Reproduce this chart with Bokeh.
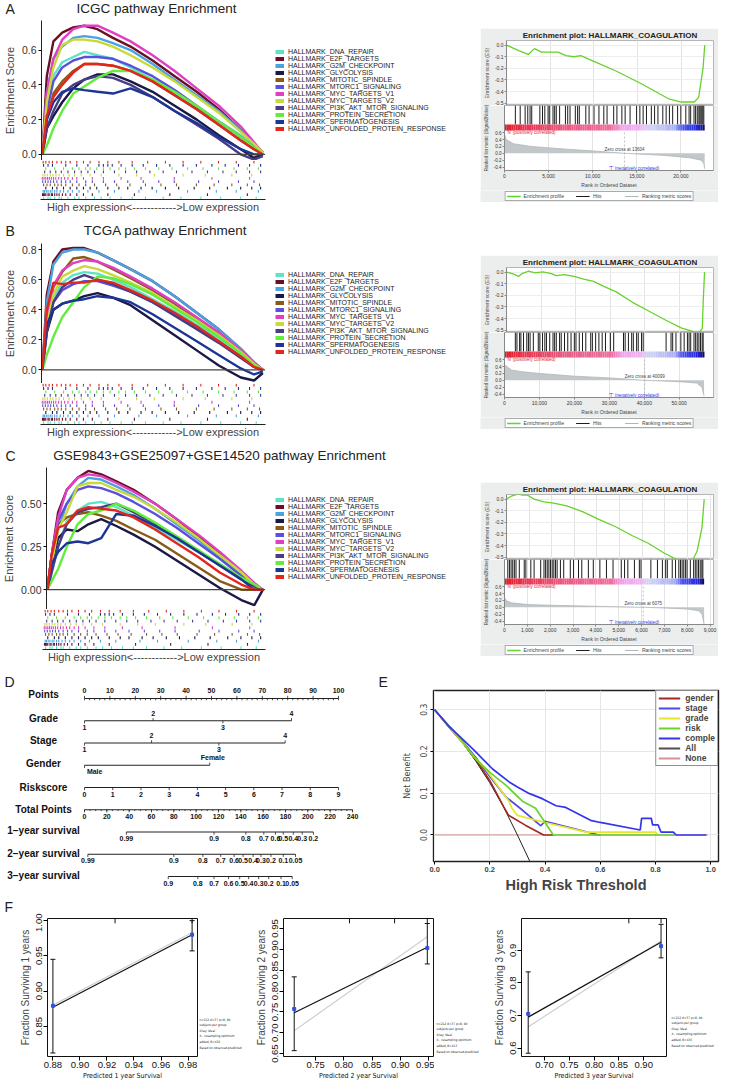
import numpy as np
from bokeh.plotting import figure
from bokeh.layouts import column, row
from bokeh.models import (Range1d, FixedTicker, Legend, LegendItem, Span,
                          NumeralTickFormatter, Spacer)
from bokeh.embed import file_html
from bokeh.resources import INLINE
from bokeh.core.properties import value

SANS = "Liberation Sans"
NARROW = "'DejaVu Sans Condensed', 'Liberation Sans Narrow', 'Liberation Sans', sans-serif"

# ---------------- A/B/C : multi-pathway GSEA ----------------
PATHWAYS = ["HALLMARK_DNA_REPAIR", "HALLMARK_E2F_TARGETS", "HALLMARK_G2M_CHECKPOINT",
            "HALLMARK_GLYCOLYSIS", "HALLMARK_MITOTIC_SPINDLE", "HALLMARK_MTORC1_SIGNALING",
            "HALLMARK_MYC_TARGETS_V1", "HALLMARK_MYC_TARGETS_V2",
            "HALLMARK_PI3K_AKT_MTOR_SIGNALING", "HALLMARK_PROTEIN_SECRETION",
            "HALLMARK_SPERMATOGENESIS", "HALLMARK_UNFOLDED_PROTEIN_RESPONSE"]
PATH_COLORS = ["#5fe3c8", "#6a1026", "#4aa3df", "#1b1846", "#8a5a17", "#5a50dc",
               "#e03fc4", "#c9d93a", "#463d86", "#62ec3c", "#1d3695", "#e3261c"]
ES_X = [0, 0.02, 0.05, 0.09, 0.14, 0.19, 0.25, 0.32, 0.4, 0.5, 0.6, 0.7, 0.8, 0.9, 0.96, 1.0]

ICGC_ES = [
    [0, 0.25, 0.45, 0.53, 0.56, 0.59, 0.57, 0.55, 0.50, 0.43, 0.35, 0.27, 0.19, 0.11, 0.05, 0.01],
    [0, 0.45, 0.65, 0.70, 0.73, 0.74, 0.72, 0.67, 0.62, 0.54, 0.45, 0.36, 0.26, 0.14, 0.06, 0.01],
    [0, 0.35, 0.55, 0.62, 0.67, 0.68, 0.67, 0.64, 0.60, 0.52, 0.43, 0.34, 0.25, 0.14, 0.06, 0.01],
    [0, 0.15, 0.22, 0.30, 0.38, 0.43, 0.46, 0.46, 0.42, 0.36, 0.28, 0.20, 0.11, 0.03, -0.02, 0.0],
    [0, 0.20, 0.35, 0.42, 0.48, 0.52, 0.52, 0.51, 0.48, 0.42, 0.34, 0.26, 0.17, 0.08, 0.03, 0.0],
    [0, 0.25, 0.42, 0.50, 0.54, 0.56, 0.56, 0.55, 0.51, 0.45, 0.37, 0.28, 0.19, 0.10, 0.04, 0.0],
    [0, 0.35, 0.55, 0.66, 0.72, 0.74, 0.74, 0.70, 0.65, 0.57, 0.48, 0.38, 0.28, 0.16, 0.07, 0.01],
    [0, 0.30, 0.50, 0.63, 0.66, 0.66, 0.65, 0.62, 0.57, 0.50, 0.42, 0.33, 0.24, 0.13, 0.06, 0.01],
    [0, 0.15, 0.25, 0.35, 0.40, 0.43, 0.45, 0.44, 0.40, 0.33, 0.25, 0.17, 0.09, 0.0, -0.03, -0.01],
    [0, 0.05, 0.15, 0.25, 0.35, 0.39, 0.44, 0.48, 0.48, 0.43, 0.36, 0.28, 0.19, 0.10, 0.04, 0.0],
    [0, 0.20, 0.30, 0.36, 0.38, 0.37, 0.36, 0.35, 0.38, 0.33, 0.25, 0.18, 0.10, 0.03, 0.0, 0.0],
    [0, 0.22, 0.33, 0.40, 0.47, 0.52, 0.52, 0.51, 0.48, 0.42, 0.34, 0.26, 0.17, 0.08, 0.03, 0.0],
]
TCGA_ES = [
    [0, 0.30, 0.48, 0.58, 0.63, 0.65, 0.64, 0.60, 0.55, 0.47, 0.39, 0.30, 0.21, 0.11, 0.04, 0.0],
    [0, 0.50, 0.72, 0.80, 0.81, 0.81, 0.78, 0.73, 0.67, 0.59, 0.49, 0.38, 0.27, 0.14, 0.05, 0.0],
    [0, 0.45, 0.70, 0.78, 0.80, 0.80, 0.78, 0.73, 0.67, 0.59, 0.49, 0.38, 0.27, 0.14, 0.05, 0.0],
    [0, 0.25, 0.40, 0.44, 0.46, 0.49, 0.51, 0.48, 0.43, 0.33, 0.23, 0.13, 0.03, -0.05, -0.07, -0.02],
    [0, 0.30, 0.55, 0.65, 0.74, 0.75, 0.72, 0.67, 0.61, 0.53, 0.44, 0.34, 0.24, 0.12, 0.04, 0.0],
    [0, 0.30, 0.45, 0.53, 0.57, 0.59, 0.59, 0.56, 0.52, 0.45, 0.37, 0.28, 0.19, 0.09, 0.02, 0.0],
    [0, 0.35, 0.56, 0.66, 0.71, 0.73, 0.72, 0.68, 0.62, 0.54, 0.45, 0.35, 0.25, 0.13, 0.05, 0.0],
    [0, 0.30, 0.50, 0.62, 0.66, 0.69, 0.67, 0.63, 0.58, 0.51, 0.42, 0.33, 0.23, 0.12, 0.04, 0.0],
    [0, 0.25, 0.45, 0.55, 0.60, 0.63, 0.60, 0.57, 0.52, 0.45, 0.36, 0.27, 0.18, 0.08, 0.02, 0.0],
    [0, 0.10, 0.22, 0.35, 0.45, 0.55, 0.62, 0.61, 0.57, 0.50, 0.41, 0.32, 0.22, 0.11, 0.03, 0.0],
    [0, 0.30, 0.40, 0.44, 0.46, 0.47, 0.49, 0.48, 0.45, 0.37, 0.28, 0.19, 0.10, 0.01, -0.03, -0.01],
    [0, 0.40, 0.58, 0.57, 0.58, 0.58, 0.60, 0.58, 0.53, 0.46, 0.38, 0.29, 0.19, 0.09, 0.02, 0.0],
]
GEO_ES = [
    [0, 0.10, 0.25, 0.40, 0.46, 0.50, 0.51, 0.48, 0.43, 0.36, 0.29, 0.22, 0.15, 0.07, 0.03, 0.0],
    [0, 0.20, 0.45, 0.58, 0.65, 0.69, 0.67, 0.63, 0.58, 0.50, 0.41, 0.31, 0.21, 0.10, 0.03, 0.0],
    [0, 0.15, 0.35, 0.50, 0.60, 0.65, 0.64, 0.60, 0.55, 0.47, 0.38, 0.29, 0.19, 0.09, 0.03, 0.0],
    [0, 0.15, 0.30, 0.35, 0.34, 0.38, 0.41, 0.37, 0.32, 0.25, 0.17, 0.09, 0.01, -0.06, -0.09, 0.0],
    [0, 0.20, 0.38, 0.42, 0.44, 0.45, 0.43, 0.40, 0.35, 0.29, 0.21, 0.13, 0.05, 0.0, 0.0, 0.0],
    [0, 0.20, 0.40, 0.50, 0.58, 0.60, 0.59, 0.56, 0.51, 0.44, 0.36, 0.27, 0.18, 0.08, 0.02, 0.0],
    [0, 0.20, 0.42, 0.58, 0.65, 0.67, 0.66, 0.62, 0.57, 0.50, 0.41, 0.32, 0.22, 0.11, 0.04, 0.0],
    [0, 0.15, 0.35, 0.45, 0.60, 0.62, 0.62, 0.58, 0.54, 0.47, 0.39, 0.30, 0.20, 0.10, 0.03, 0.0],
    [0, 0.10, 0.25, 0.38, 0.45, 0.47, 0.48, 0.50, 0.45, 0.38, 0.30, 0.22, 0.14, 0.06, 0.02, 0.0],
    [0, 0.05, 0.12, 0.25, 0.38, 0.44, 0.46, 0.50, 0.46, 0.39, 0.31, 0.23, 0.15, 0.07, 0.03, 0.0],
    [0, 0.15, 0.22, 0.27, 0.28, 0.27, 0.30, 0.44, 0.43, 0.37, 0.30, 0.22, 0.14, 0.06, 0.0, 0.0],
    [0, 0.20, 0.36, 0.38, 0.46, 0.48, 0.47, 0.46, 0.42, 0.35, 0.27, 0.19, 0.10, 0.03, 0.0, 0.0],
]
RUG_HITS = [
    [0.01, 0.03, 0.04, 0.06, 0.08, 0.09, 0.12, 0.15, 0.17, 0.2, 0.24, 0.27, 0.31, 0.36, 0.41, 0.47, 0.55, 0.63, 0.72, 0.81, 0.9, 0.97],
    [0.005, 0.01, 0.015, 0.02, 0.03, 0.035, 0.045, 0.05, 0.06, 0.07, 0.08, 0.095, 0.11, 0.13, 0.16, 0.19, 0.23, 0.3, 0.42, 0.58, 0.75, 0.93],
    [0.008, 0.014, 0.022, 0.03, 0.04, 0.048, 0.06, 0.07, 0.085, 0.1, 0.12, 0.14, 0.17, 0.21, 0.26, 0.33, 0.44, 0.52, 0.66, 0.79, 0.88, 0.98],
    [0.02, 0.05, 0.07, 0.1, 0.13, 0.16, 0.19, 0.22, 0.25, 0.3, 0.35, 0.39, 0.45, 0.5, 0.56, 0.62, 0.69, 0.76, 0.84, 0.9, 0.95, 0.99],
    [0.01, 0.025, 0.04, 0.06, 0.075, 0.09, 0.11, 0.14, 0.17, 0.2, 0.24, 0.29, 0.34, 0.4, 0.47, 0.54, 0.61, 0.7, 0.78, 0.86, 0.93, 0.985],
    [0.006, 0.018, 0.03, 0.042, 0.055, 0.07, 0.09, 0.11, 0.13, 0.16, 0.2, 0.23, 0.28, 0.33, 0.39, 0.46, 0.53, 0.6, 0.71, 0.8, 0.89, 0.96],
    [0.004, 0.012, 0.02, 0.028, 0.036, 0.045, 0.055, 0.065, 0.078, 0.09, 0.105, 0.12, 0.14, 0.16, 0.19, 0.23, 0.28, 0.36, 0.45, 0.6, 0.77, 0.94],
    [0.007, 0.016, 0.027, 0.04, 0.052, 0.066, 0.08, 0.1, 0.125, 0.15, 0.18, 0.22, 0.27, 0.35, 0.43, 0.51, 0.64, 0.74, 0.86, 0.95],
    [0.015, 0.04, 0.065, 0.09, 0.12, 0.15, 0.18, 0.21, 0.24, 0.28, 0.33, 0.38, 0.43, 0.49, 0.55, 0.61, 0.68, 0.75, 0.82, 0.88, 0.94, 0.99],
    [0.02, 0.06, 0.1, 0.14, 0.17, 0.2, 0.22, 0.25, 0.28, 0.31, 0.35, 0.38, 0.42, 0.47, 0.53, 0.59, 0.66, 0.73, 0.8, 0.87, 0.93, 0.98],
    [0.01, 0.03, 0.05, 0.11, 0.16, 0.21, 0.26, 0.28, 0.3, 0.32, 0.36, 0.41, 0.46, 0.52, 0.58, 0.64, 0.7, 0.77, 0.83, 0.89, 0.94, 0.99],
    [0.008, 0.02, 0.035, 0.05, 0.07, 0.09, 0.11, 0.13, 0.16, 0.19, 0.22, 0.26, 0.3, 0.35, 0.41, 0.48, 0.56, 0.64, 0.72, 0.8, 0.88, 0.96],
]

# ---------------- right column : HALLMARK_COAGULATION enrichment plots ----------------
ENR_A_RANK = [0, 1400, 2500, 3200, 4000, 5900, 6800, 7700, 8500, 10000, 12600, 15500, 18500, 20000, 21500, 22000, 22500, 22700]
ENR_A_ES = [0.0, -0.047, -0.08, -0.03, -0.06, -0.06, -0.09, -0.10, -0.09, -0.14, -0.225, -0.335, -0.46, -0.49, -0.49, -0.45, -0.20, 0.0]
ENR_A_HITS = [1230, 1780, 2340, 2640, 2900, 3090, 4010, 4310, 4570, 4940, 5130, 5500, 5690, 5870, 6250, 6910, 7170, 7430, 8030, 8290, 8480, 9220, 9590, 10150, 10710, 11260, 11630, 12380, 12750, 13310, 13680, 14240, 14980, 15350, 15720, 16100, 16650, 17020, 17400, 17950, 18330, 18700, 19070, 19630, 20000, 20560, 20930, 21110, 21490, 21670, 21860, 22040, 22150, 22270, 22380, 22490, 22600]
ENR_A_MRANK = [0, 200, 1000, 3000, 7000, 10000, 13604, 18000, 21000, 22300, 22600, 22700]
ENR_A_METRIC = [0.55, 0.40, 0.28, 0.20, 0.12, 0.07, 0.0, -0.06, -0.13, -0.20, -0.30, -0.45]

ENR_B_RANK = [0, 1700, 3560, 4500, 6380, 8250, 10600, 12940, 14350, 16700, 19510, 22320, 25140, 27950, 31700, 36390, 41080, 45770, 50460, 54220, 55620, 56560, 56840, 57220]
ENR_B_ES = [0.0, -0.012, -0.036, -0.012, 0.009, -0.006, 0.003, -0.012, -0.03, -0.021, -0.036, -0.06, -0.08, -0.12, -0.17, -0.26, -0.335, -0.41, -0.48, -0.515, -0.52, -0.485, -0.245, 0.0]
ENR_B_HITS = [3100, 3560, 4320, 4690, 5440, 6380, 6850, 7320, 8250, 9660, 10130, 10880, 11540, 12010, 12940, 13880, 14350, 14820, 15760, 16230, 17170, 18100, 19040, 19980, 20450, 21390, 22320, 23260, 24670, 25140, 26080, 27010, 27950, 28890, 30300, 31240, 34050, 34520, 35460, 36390, 36860, 37800, 38270, 39210, 39680, 46240, 47650, 48120, 49060, 50460, 51400, 52340, 52810, 53280, 54220, 54690, 55150, 55620, 56090, 56560, 56840]
ENR_B_MRANK = [0, 2000, 5000, 10000, 20000, 30000, 40099, 50000, 55000, 56500, 57100]
ENR_B_METRIC = [0.45, 0.30, 0.25, 0.20, 0.12, 0.07, 0.0, -0.04, -0.08, -0.20, -0.45]

ENR_C_RANK = [0, 216, 504, 720, 936, 1224, 1656, 2088, 2664, 3384, 4104, 4824, 5544, 6264, 6984, 7560, 7992, 8208, 8424, 8640, 8740]
ENR_C_ES = [0.0, 0.027, 0.044, 0.034, 0.034, 0.0, -0.024, -0.034, -0.058, -0.109, -0.177, -0.238, -0.313, -0.38, -0.466, -0.524, -0.544, -0.534, -0.449, -0.245, 0.0]
ENR_C_HITS = [144, 216, 288, 360, 432, 504, 648, 864, 936, 1152, 1296, 1584, 1728, 1800, 1872, 1944, 2016, 2088, 2160, 2232, 2304, 2448, 2592, 2880, 3024, 3240, 3384, 3672, 3888, 4176, 4464, 4752, 5112, 5256, 5400, 5688, 5904, 5976, 6408, 6696, 6912, 7056, 7128, 7344, 7488, 7632, 7704, 7776, 7848, 7920, 7992, 8136, 8280, 8352, 8424, 8496, 8568, 8640, 8683]
ENR_C_MRANK = [0, 100, 300, 1000, 2000, 3000, 4000, 5000, 6075, 7000, 8000, 8500, 8650, 8740]
ENR_C_METRIC = [0.28, 0.18, 0.13, 0.08, 0.06, 0.045, 0.03, 0.015, 0.0, -0.02, -0.05, -0.10, -0.20, -0.50]

# ---------------- D : nomogram ----------------
NOMO_ROWS = ["Points", "Grade", "Stage", "Gender", "Riskscore", "Total Points",
             "1\u2212year survival", "2\u2212year survival", "3\u2212year survival"]
POINT_TICKS = [0, 10, 20, 30, 40, 50, 60, 70, 80, 90, 100]
GRADE_LEVELS = ["1", "2", "3", "4"]
GRADE_POINTS = [0, 27.0, 54.5, 81.5]
STAGE_LEVELS = ["1", "2", "3", "4"]
STAGE_POINTS = [0, 26.4, 52.9, 79.0]
GENDER_LEVELS = ["Male", "Female"]
GENDER_POINTS = [0, 49.3]
RISK_TICKS = [0, 1, 2, 3, 4, 5, 6, 7, 8, 9]
RISK_POINTS_PER_UNIT = 100 / 9
TOTAL_TICKS = [0, 20, 40, 60, 80, 100, 120, 140, 160, 180, 200, 220, 240]
POINTS_PER_TOTAL = 105.5 / 240
SURV1_LABELS = ["0.99", "0.9", "0.8", "0.7", "0.6", "0.5", "0.4", "0.3", "0.2"]
SURV1_TOTAL = [37.5, 116, 144.5, 160.6, 171, 178, 187, 195, 205]
SURV2_LABELS = ["0.99", "0.9", "0.8", "0.7", "0.6", "0.5", "0.4", "0.3", "0.2", "0.1", "0.05"]
SURV2_TOTAL = [3, 80, 106, 122, 134, 142, 151, 158, 167, 178, 189]
SURV3_LABELS = ["0.9", "0.8", "0.7", "0.6", "0.5", "0.4", "0.3", "0.2", "0.1", "0.05"]
SURV3_TOTAL = [75, 101.5, 116, 129, 139, 147, 156, 165, 176, 186]

# ---------------- E : decision curves ----------------
DCA_NAMES = ["gender", "stage", "grade", "risk", "comple", "All", "None"]
DCA_COLORS = ["#a02a22", "#4a4ae6", "#e6e62c", "#68d42c", "#3434ee", "#505050", "#d89090"]
DCA_X = {
    "gender": [0, 0.05, 0.1, 0.15, 0.2, 0.25, 0.268, 0.33, 0.395, 0.43],
    "stage": [0, 0.05, 0.1, 0.15, 0.2, 0.26, 0.31, 0.385, 0.40, 0.5, 0.595, 0.6],
    "grade": [0, 0.05, 0.1, 0.15, 0.185, 0.27, 0.28, 0.30, 0.40, 0.55, 0.80, 0.81],
    "risk": [0, 0.05, 0.1, 0.14, 0.2, 0.26, 0.32, 0.366, 0.43, 0.87],
    "comple": [0, 0.05, 0.1, 0.14, 0.21, 0.27, 0.30, 0.344, 0.39, 0.44, 0.475, 0.565, 0.6, 0.745, 0.75, 0.785, 0.79, 0.81, 0.82, 0.865, 0.875, 0.985],
    "All": [0, 0.05, 0.1, 0.15, 0.2, 0.25, 0.3, 0.345],
    "None": [0, 0.99],
}
DCA_Y = {
    "gender": [0.30, 0.26, 0.222, 0.18, 0.13, 0.068, 0.047, 0.023, 0.0, 0.0],
    "stage": [0.30, 0.262, 0.225, 0.185, 0.14, 0.09, 0.064, 0.022, 0.033, 0.016, 0.0, 0.0],
    "grade": [0.30, 0.262, 0.222, 0.182, 0.158, 0.08, 0.064, 0.047, 0.03, 0.007, 0.007, 0.0],
    "risk": [0.30, 0.262, 0.225, 0.188, 0.15, 0.118, 0.08, 0.064, 0.0, 0.0],
    "comple": [0.30, 0.262, 0.23, 0.205, 0.158, 0.127, 0.115, 0.099, 0.087, 0.07, 0.066, 0.035, 0.03, 0.012, 0.04, 0.04, 0.024, 0.024, 0.007, 0.007, 0.0, 0.0],
    "All": [0.30, 0.263, 0.222, 0.176, 0.125, 0.067, 0.0, -0.063],
    "None": [0, 0],
}

# ---------------- F : calibration curves ----------------
CAL_PRED = [[0.880, 0.983], [0.712, 0.948], [0.667, 0.935]]
CAL_OBS = [[0.879, 0.980], [0.757, 0.903], [0.705, 0.913]]
CAL_LO = [[0.812, 0.957], [0.657, 0.865], [0.584, 0.877]]
CAL_HI = [[0.945, 1.000], [0.834, 0.962], [0.834, 0.980]]
CAL_LINE = [[0.877, 0.980], [0.748, 0.905], [0.695, 0.925]]
CAL_IDEAL = [[0.880, 0.983], [0.705, 0.930], [0.665, 0.930]]
CAL_RUG = [[0.926, 0.983], [0.81, 0.89, 0.948], [0.87, 0.935]]
CAL_YEARS = ["1", "2", "3"]
CAL_NOTES = [
    ["n=212 d=37 p=8, 90", "subjects per group", "Gray: ideal", "X - resampling optimism",
     "added, B=432", "Based on observed-predicted"],
    ["n=212 d=37 p=8, 90", "subjects per group", "Gray: ideal", "X - resampling optimism",
     "added, B=413", "Based on observed-predicted"],
    ["n=212 d=37 p=8, 90", "subjects per group", "Gray: ideal", "X - resampling optimism",
     "added, B=435", "Based on observed-predicted"],
]


def base_fig(**kw):
    return figure(output_backend="svg", toolbar_location=None, frame_align=False, **kw)


def blank_fig(w, h, **kw):
    """A figure without axes whose frame is measured in pixels from its top-left corner."""
    p = base_fig(width=w, height=h, x_range=Range1d(0, w), y_range=Range1d(h, 0),
                 x_axis_location=None, y_axis_location=None, min_border=0, **kw)
    p.grid.visible = False
    p.outline_line_color = None
    return p


def ptext(p, xs, ys, labels, size, align="left", bold=False, color="#222222", font=SANS,
          baseline="middle"):
    p.text(x=xs, y=ys, text=labels, text_font=value(font), text_font_size=size,
           text_font_style="bold" if bold else "normal", text_align=align,
           text_baseline=baseline, text_color=color)


# ======================= A/B/C left =======================
LEFT_W, FRAME_R = 480, 265


def gsea_block(letter, title, title_cx, es, yticks, yfmt, y0, y1, head_h, text_y, es_h, top_b,
               rug_h, left_b):
    fw = FRAME_R - left_b
    xr = (-0.004, 1.012)
    head = blank_fig(LEFT_W, head_h)
    ptext(head, [5], [text_y], [letter], "14px")
    ptext(head, [title_cx], [text_y], [title], "13.5px", align="center")

    p = base_fig(width=FRAME_R, height=es_h, x_range=Range1d(*xr), y_range=Range1d(y0, y1),
                 x_axis_location=None, min_border_left=left_b, min_border_right=0,
                 min_border_top=top_b, min_border_bottom=0)
    p.grid.visible = False
    p.outline_line_color = None
    ax = p.yaxis[0]
    ax.ticker = FixedTicker(ticks=yticks)
    ax.formatter = NumeralTickFormatter(format=yfmt)
    ax.axis_label = "Enrichment Score"
    ax.axis_label_text_font = SANS
    ax.axis_label_text_font_style = "normal"
    ax.axis_label_text_font_size = "11px"
    ax.axis_label_standoff = 3
    ax.major_label_text_font = SANS
    ax.major_label_text_font_size = "10.5px"
    ax.major_label_text_color = "#333333"
    ax.major_label_standoff = 2
    ax.major_tick_out = 3
    ax.major_tick_in = 0
    ax.minor_tick_out = 0
    ax.minor_tick_in = 0
    ax.axis_line_color = "#222222"
    p.add_layout(Span(location=0, dimension="width", line_color="#444444", line_width=1.3))
    for i in range(len(PATHWAYS)):
        p.line(ES_X, es[i], color=PATH_COLORS[i], line_width=2.4)

    lg = base_fig(width=LEFT_W - FRAME_R, height=es_h, x_range=Range1d(0, 1),
                  y_range=Range1d(0, 1), x_axis_location=None, y_axis_location=None,
                  min_border=0, min_border_top=top_b)
    lg.grid.visible = False
    lg.outline_line_color = None
    items = []
    for i, name in enumerate(PATHWAYS):
        d = lg.line([np.nan], [np.nan], color=PATH_COLORS[i], line_width=4)
        items.append(LegendItem(label=name, renderers=[d]))
    leg = Legend(items=items, location="center_left", label_text_font=SANS,
                 label_text_font_size="7px", label_text_color="#222222",
                 label_text_line_height=1.0,
                 glyph_width=9, glyph_height=5, label_height=5, spacing=0, padding=0,
                 margin=10, label_standoff=4, border_line_color=None,
                 background_fill_alpha=0)
    lg.add_layout(leg)

    r = base_fig(width=LEFT_W, height=rug_h, x_range=p.x_range, y_range=Range1d(0, 12),
                 y_axis_location=None, min_border_left=left_b,
                 min_border_right=LEFT_W - FRAME_R, min_border_top=0)
    r.grid.visible = False
    r.outline_line_color = None
    xs, ys0, ys1, cs = [], [], [], []
    for i in range(len(PATHWAYS)):
        for h in RUG_HITS[i]:
            xs.append(h)
            ys0.append(i + 0.1)
            ys1.append(i + 0.95)
            cs.append(PATH_COLORS[i])
    r.segment(x0=xs, y0=ys0, x1=xs, y1=ys1, line_color=cs, line_width=1.1)
    xa = r.xaxis[0]
    xa.ticker = FixedTicker(ticks=[])
    xa.axis_label = "High expression<------------>Low expression"
    xa.axis_label_text_font = SANS
    xa.axis_label_text_font_style = "normal"
    xa.axis_label_text_font_size = "11px"
    xa.axis_label_standoff = 1
    xa.axis_line_color = "#222222"
    return column(head, row(p, lg), r)


A_left = gsea_block("A", "ICGC pathway Enrichment", 156, ICGC_ES, [0, 0.2, 0.4, 0.6], "0.0",
                    -0.035, 0.77, 18, 8, 142, 2, 55, 40)
B_left = gsea_block("B", "TCGA pathway Enrichment", 165, TCGA_ES, [0, 0.2, 0.4, 0.6, 0.8],
                    "0.0", -0.09, 0.84, 26, 15, 142, 2, 57, 40)
C_left = gsea_block("C", "GSE9843+GSE25097+GSE14520 pathway Enrichment", 219, GEO_ES,
                    [0, 0.25, 0.5], "0.00", -0.115, 0.71, 26, 15, 143, 1, 56, 42)

# ======================= right column enrichment plots =======================
PANEL_BG = "#eceeee"
ES_GREEN = "#66d22a"
CBAR_STOPS = [0, 0.1, 0.3, 0.54, 0.58, 0.68, 0.72, 0.85, 0.89, 0.97, 1.0]
CBAR_COLORS = ["#e01e26", "#e8334e", "#ea5a82", "#ee6fa0", "#f2a0e8", "#f0b4f2",
               "#d2d4f4", "#aab0f2", "#4b55ee", "#2222d8", "#0b0b50"]


def hex2rgb(h):
    return [int(h[i:i + 2], 16) for i in (1, 3, 5)]


def gradient(n):
    rgb = np.array([hex2rgb(c) for c in CBAR_COLORS], dtype=float)
    t = (np.arange(n) + 0.5) / n
    out = []
    for tt in t:
        c = [int(round(np.interp(tt, CBAR_STOPS, rgb[:, k]))) for k in range(3)]
        out.append("#%02x%02x%02x" % tuple(c))
    return out


def tiny_axis(ax, size="5px"):
    ax.major_label_text_font = SANS
    ax.major_label_text_font_size = size
    ax.major_label_text_color = "#333333"
    ax.major_label_standoff = 1
    ax.major_tick_out = 2
    ax.major_tick_in = 0
    ax.minor_tick_out = 0
    ax.minor_tick_in = 0
    ax.axis_label_text_font = SANS
    ax.axis_label_text_font_style = "normal"
    ax.axis_label_text_font_size = size
    ax.axis_label_standoff = 2
    ax.axis_line_color = "#888888"
    ax.major_tick_line_color = "#888888"


def enrich_panel(es_r, es_v, hits, m_r, m_v, zero, xmax, xticks):
    W = 238
    top = base_fig(width=W, height=77, x_range=Range1d(0, xmax), y_range=Range1d(-0.52, 0.04),
                   x_axis_location=None, min_border_left=21, min_border_right=5,
                   min_border_top=10, min_border_bottom=0, border_fill_color=PANEL_BG,
                   outline_line_color="#b5b5b5")
    top.title.text = "Enrichment plot: HALLMARK_COAGULATION"
    top.title.text_font = SANS
    top.title.text_font_size = "8px"
    top.title.text_font_style = "bold"
    top.title.text_color = "#222222"
    top.title.align = "center"
    top.title.standoff = 1
    top.xgrid.ticker = FixedTicker(ticks=xticks)
    top.xgrid.grid_line_color = "#e3e3e3"
    top.ygrid.grid_line_color = "#eeeeee"
    top.line(es_r, es_v, color=ES_GREEN, line_width=1.3)
    ax = top.yaxis[0]
    ax.ticker = FixedTicker(ticks=[-0.5, -0.4, -0.3, -0.2, -0.1, 0.0])
    ax.formatter = NumeralTickFormatter(format="0.0")
    ax.axis_label = "Enrichment score (ES)"
    tiny_axis(ax)

    bot = base_fig(width=W, height=85, x_range=top.x_range, y_range=Range1d(-0.5, 1.39),
                   min_border_left=21, min_border_right=5, min_border_top=0,
                   border_fill_color=PANEL_BG, outline_line_color="#b5b5b5")
    bot.xgrid.ticker = FixedTicker(ticks=xticks)
    bot.xgrid.grid_line_color = "#e3e3e3"
    bot.ygrid.grid_line_color = None
    n = len(hits)
    bot.segment(x0=hits, y0=[0.84] * n, x1=hits, y1=[1.39] * n,
                line_color="#1c1c1c", line_width=1)
    nq = 90
    edges = np.linspace(0, es_r[-1], nq + 1)
    bot.quad(left=edges[:-1], right=edges[1:], bottom=0.66, top=0.84,
             fill_color=gradient(nq), line_color=None)
    bot.varea(x=m_r, y1=[0] * len(m_r), y2=m_v, fill_color="#c2c7ca")
    bot.line(m_r, m_v, color="#b0b5b8", line_width=0.8)
    bot.segment(x0=[zero], y0=[-0.5], x1=[zero], y1=[0.66], line_color="#9a9a9a",
                line_width=0.6, line_dash="2 2")
    ptext(bot, [zero], [0.05], ["Zero cross at %d" % zero], "4.5px", align="center",
          color="#444444", baseline="bottom")
    ptext(bot, [xmax * 0.01], [0.6], ["'N' (positively correlated)"], "4.5px",
          color="#e0203a")
    ptext(bot, [xmax * 0.62], [-0.44], ["'T' (negatively correlated)"], "4.5px",
          align="center", color="#2a3ae0")
    ay = bot.yaxis[0]
    ay.ticker = FixedTicker(ticks=[-0.4, -0.2, 0.0, 0.2, 0.4, 0.6])
    ay.formatter = NumeralTickFormatter(format="0.0")
    ay.axis_label = "Ranked list metric (Signal2Noise)"
    tiny_axis(ay, "4.5px")
    axx = bot.xaxis[0]
    axx.ticker = FixedTicker(ticks=xticks)
    axx.formatter = NumeralTickFormatter(format="0,0")
    axx.axis_label = "Rank in Ordered Dataset"
    tiny_axis(axx, "5px")
    axx.axis_label_standoff = 1

    lf = base_fig(width=W, height=12, x_range=Range1d(0, 1), y_range=Range1d(0, 1),
                  x_axis_location=None, y_axis_location=None, min_border=0,
                  border_fill_color=PANEL_BG, background_fill_color=PANEL_BG)
    lf.grid.visible = False
    lf.outline_line_color = None
    d1 = lf.line([np.nan], [np.nan], color=ES_GREEN, line_width=1.3)
    d2 = lf.line([np.nan], [np.nan], color="#1c1c1c", line_width=1)
    d3 = lf.line([np.nan], [np.nan], color="#b0b5b8", line_width=1)
    leg = Legend(items=[LegendItem(label="Enrichment profile", renderers=[d1]),
                        LegendItem(label="Hits", renderers=[d2]),
                        LegendItem(label="Ranking metric scores", renderers=[d3])],
                 orientation="horizontal", location="center", label_text_font=SANS,
                 label_text_font_size="5px", glyph_width=14, glyph_height=4,
                 label_height=4, padding=1, spacing=12, margin=0, label_standoff=3,
                 border_line_color="#555555", background_fill_color="white")
    lf.add_layout(leg)
    return column(top, bot, lf)


RA = enrich_panel(ENR_A_RANK, ENR_A_ES, ENR_A_HITS, ENR_A_MRANK, ENR_A_METRIC, 13604, 23700,
                  [0, 5000, 10000, 15000, 20000])
RB = enrich_panel(ENR_B_RANK, ENR_B_ES, ENR_B_HITS, ENR_B_MRANK, ENR_B_METRIC, 40099, 59800,
                  [0, 10000, 20000, 30000, 40000, 50000])
RC = enrich_panel(ENR_C_RANK, ENR_C_ES, ENR_C_HITS, ENR_C_MRANK, ENR_C_METRIC, 6075, 9150,
                  [0, 1000, 2000, 3000, 4000, 5000, 6000, 7000, 8000, 9000])
right_col = column(Spacer(width=238, height=28), RA, Spacer(width=238, height=53), RB,
                   Spacer(width=238, height=53), RC)

# ======================= D nomogram =======================
D_W, D_H = 392, 230
PX_PER_POINT, PX_PER_ROW, ROW0_PX, POINT0_PX = 2.54, 22.25, 33.0, 84.0
d_xr = (-POINT0_PX / PX_PER_POINT, (D_W - POINT0_PX) / PX_PER_POINT)
d_yr = ((D_H - ROW0_PX) / PX_PER_ROW, -ROW0_PX / PX_PER_ROW)
D = base_fig(width=D_W, height=D_H, x_range=Range1d(*d_xr), y_range=Range1d(*d_yr),
             x_axis_location=None, y_axis_location=None, min_border=0)
D.grid.visible = False
D.outline_line_color = None


def px2pt(px):
    return (px - POINT0_PX) / PX_PER_POINT


def px2row(px):
    return (px - ROW0_PX) / PX_PER_ROW


def dtext(xs, ys, labels, size="7px", bold=True):
    ptext(D, xs, ys, labels, size, align="center", bold=bold, color="#111111")


def dline(row_i, p0, p1):
    D.segment(x0=[p0], y0=[row_i], x1=[p1], y1=[row_i], line_color="#222222", line_width=1)


def dticks(row_i, ps, length):
    D.segment(x0=ps, y0=[row_i] * len(ps), x1=ps, y1=[row_i + length] * len(ps),
              line_color="#222222", line_width=0.8)


row_y = [0 - 0.2, 1 - 0.1, 2 - 0.1, 3 - 0.1, 4, 5, 6 - 0.05, 7 - 0.05, 8 - 0.05]
dtext([px2pt(43)] * len(NOMO_ROWS), row_y, NOMO_ROWS, size="10px")
dline(0, 0, 100)
dticks(0, POINT_TICKS, -0.12)
dticks(0, list(range(0, 101, 2)), 0.08)
dtext(POINT_TICKS, [-0.36] * len(POINT_TICKS), [str(v) for v in POINT_TICKS])
for ri, levels, pts in [(1, GRADE_LEVELS, GRADE_POINTS), (2, STAGE_LEVELS, STAGE_POINTS)]:
    dline(ri, pts[0], pts[-1])
    up = pts[1::2]
    dn = pts[0::2]
    dticks(ri, up, -0.12)
    dticks(ri, dn, 0.12)
    dtext(up, [ri - 0.33] * len(up), levels[1::2])
    dtext(dn, [ri + 0.3] * len(dn), levels[0::2])
dline(3, GENDER_POINTS[0], GENDER_POINTS[1])
dticks(3, [GENDER_POINTS[1]], -0.12)
dticks(3, [GENDER_POINTS[0]], 0.12)
dtext([GENDER_POINTS[1] + 1.2], [3 - 0.33], [GENDER_LEVELS[1]])
dtext([GENDER_POINTS[0] + 4], [3 + 0.3], [GENDER_LEVELS[0]])
risk_pts = [v * RISK_POINTS_PER_UNIT for v in RISK_TICKS]
dline(4, risk_pts[0], risk_pts[-1])
dticks(4, risk_pts, 0.12)
dtext(risk_pts, [4 + 0.33] * len(risk_pts), [str(v) for v in RISK_TICKS])
tot_pts = [v * POINTS_PER_TOTAL for v in TOTAL_TICKS]
dline(5, tot_pts[0], tot_pts[-1])
dticks(5, tot_pts, 0.12)
dticks(5, [v * POINTS_PER_TOTAL for v in range(0, 241, 5)], 0.06)
dtext(tot_pts, [5 + 0.3] * len(tot_pts), [str(v) for v in TOTAL_TICKS])
for ri, labels, tots in [(6, SURV1_LABELS, SURV1_TOTAL), (7, SURV2_LABELS, SURV2_TOTAL),
                         (8, SURV3_LABELS, SURV3_TOTAL)]:
    ps = [t * POINTS_PER_TOTAL for t in tots]
    dline(ri, ps[0], ps[-1])
    dticks(ri, ps, 0.12)
    dtext(ps, [ri + 0.3] * len(ps), labels)
ptext(D, [px2pt(4)], [px2row(16)], ["D"], "14px")
ptext(D, [px2pt(378)], [px2row(16)], ["E"], "14px")

# ======================= E decision curves =======================
E_W, E_L, E_R, E_T, E_B = 340, 41, 14, 25, 31
e_fw = E_W - E_L - E_R
e_xr = (-0.004, -0.004 + e_fw / 276)
e_yr = (-0.0635, 0.346)
E = base_fig(width=E_W, height=230, x_range=Range1d(*e_xr), y_range=Range1d(*e_yr),
             min_border_left=E_L, min_border_right=E_R, min_border_top=E_T,
             min_border_bottom=E_B, outline_line_color="#222222")
E.outline_line_width = 1.4
E.xgrid.ticker = FixedTicker(ticks=[0, 0.2, 0.4, 0.6, 0.8, 1.0])
E.ygrid.ticker = FixedTicker(ticks=[0, 0.1, 0.2, 0.3])
E.grid.grid_line_color = "#e6e6e6"
for nm in ["None", "All", "gender", "stage", "grade", "risk", "comple"]:
    ci = DCA_NAMES.index(nm)
    lw = 1.0 if nm in ("All", "None") else 1.7
    col = "#222222" if nm == "All" else DCA_COLORS[ci]
    E.line(DCA_X[nm], DCA_Y[nm], color=col, line_width=lw)
leg_items = []
for nm, colr in zip(DCA_NAMES, DCA_COLORS):
    dummy = E.line([np.nan], [np.nan], color=colr, line_width=2)
    leg_items.append(LegendItem(label=nm, renderers=[dummy]))
eleg = Legend(items=leg_items, location="top_right", label_text_font=SANS,
              label_text_font_style="bold", label_text_font_size="8.5px",
              label_text_line_height=0.85,
              glyph_width=22, glyph_height=6, label_height=6, spacing=0, padding=2,
              margin=0, label_standoff=5, border_line_color="#222222",
              border_line_width=1, background_fill_color="white")
E.add_layout(eleg)
ex = E.xaxis[0]
ex.ticker = FixedTicker(ticks=[0, 0.2, 0.4, 0.6, 0.8, 1.0])
ex.formatter = NumeralTickFormatter(format="0.0")
ex.major_label_text_font = SANS
ex.major_label_text_font_style = "bold"
ex.major_label_text_font_size = "7.5px"
ex.major_tick_out = 3
ex.major_tick_in = 0
ex.minor_tick_out = 0
ex.major_label_standoff = 2
ex.axis_line_color = None
ex.axis_label = "High Risk Threshold"
ex.axis_label_text_font = SANS
ex.axis_label_text_font_style = "bold"
ex.axis_label_text_font_size = "14.5px"
ex.axis_label_standoff = 2
ey = E.yaxis[0]
ey.ticker = FixedTicker(ticks=[0, 0.1, 0.2, 0.3])
ey.formatter = NumeralTickFormatter(format="0.0")
ey.major_label_orientation = "vertical"
ey.major_label_text_font = NARROW
ey.major_label_text_font_size = "8.5px"
ey.major_tick_out = 3
ey.major_tick_in = 0
ey.minor_tick_out = 0
ey.major_label_standoff = 3
ey.axis_line_color = None
ey.axis_label = "Net Benefit"
ey.axis_label_text_font = NARROW
ey.axis_label_text_font_style = "normal"
ey.axis_label_text_font_size = "9px"
ey.axis_label_standoff = 6

# ======================= F calibration =======================
F_HEAD, F_H, F_TOP, F_BOT = 18, 169, 5, 24
NOTE_LINE_OFFSETS = [34, 29, 23, 17.5, 12, 6]


def cal_plot(i, fig_w, left, note_w, xr, yr, xticks, xfmt, yticks, yfmt, note_dx, note_shift):
    p = base_fig(width=fig_w, height=F_H, x_range=Range1d(*xr), y_range=Range1d(*yr),
                 min_border_left=left, min_border_right=1, min_border_top=F_TOP,
                 min_border_bottom=F_BOT, outline_line_color="#111111")
    p.grid.visible = False
    pred = CAL_PRED[i]
    p.line(pred, CAL_IDEAL[i], color="#cfcfcf", line_width=1.2)
    p.line(pred, CAL_LINE[i], color="#111111", line_width=1.2)
    p.segment(x0=pred, y0=CAL_LO[i], x1=pred, y1=CAL_HI[i], line_color="#111111",
              line_width=1)
    p.scatter(pred, CAL_LO[i], marker="dash", size=5, line_color="#111111")
    p.scatter(pred, CAL_HI[i], marker="dash", size=5, line_color="#111111")
    p.scatter(pred, CAL_OBS[i], marker="square", size=3, color="#3050e0")
    dy = 0.035 * (yr[1] - yr[0])
    p.segment(x0=CAL_RUG[i], y0=[yr[1]] * len(CAL_RUG[i]), x1=CAL_RUG[i],
              y1=[yr[1] - dy] * len(CAL_RUG[i]), line_color="#111111", line_width=1)
    for ax, ticks, fmt in [(p.xaxis[0], xticks, xfmt), (p.yaxis[0], yticks, yfmt)]:
        ax.ticker = FixedTicker(ticks=ticks)
        ax.formatter = NumeralTickFormatter(format=fmt)
        ax.major_label_text_font = SANS
        ax.major_label_text_font_size = "9.5px"
        ax.major_label_text_color = "#111111"
        ax.major_tick_out = 4
        ax.major_tick_in = 0
        ax.minor_tick_out = 0
        ax.minor_tick_in = 0
        ax.major_label_standoff = 1
        ax.axis_line_color = None
    p.yaxis[0].major_label_orientation = "vertical"
    p.yaxis[0].axis_label = "Fraction Surviving %s years" % CAL_YEARS[i]
    p.yaxis[0].axis_label_text_font = SANS
    p.yaxis[0].axis_label_text_font_style = "normal"
    p.yaxis[0].axis_label_text_font_size = "10px"
    p.yaxis[0].axis_label_standoff = 3
    p.xaxis[0].axis_label = "Predicted %s year Survival" % CAL_YEARS[i]
    p.xaxis[0].axis_label_text_font = NARROW
    p.xaxis[0].axis_label_text_font_style = "normal"
    p.xaxis[0].axis_label_text_font_size = "7px"
    p.xaxis[0].axis_label_text_color = "#111111"
    p.xaxis[0].axis_label_standoff = 1
    nf = blank_fig(note_w, F_H)
    base_y = F_H - 33 - note_shift
    ptext(nf, [note_dx] * len(CAL_NOTES[i]), [base_y - off for off in NOTE_LINE_OFFSETS],
          CAL_NOTES[i], "3.2px", font=NARROW)
    return row(p, nf)


F1 = cal_plot(0, 198, 47, 47, (0.876, 0.987), (0.807, 1.003),
              [0.88, 0.90, 0.92, 0.94, 0.96, 0.98], "0.00", [0.85, 0.90, 0.95, 1.00], "0.00",
              1, -4)
F2 = cal_plot(1, 189, 38, 51, (0.693, 0.959), (0.643, 0.974),
              [0.75, 0.80, 0.85, 0.90, 0.95], "0.00",
              [0.65, 0.70, 0.75, 0.80, 0.85, 0.90, 0.95], "0.00", 2, -8)
F3 = cal_plot(2, 182, 36, 65, (0.6535, 0.946), (0.574, 0.998),
              [0.70, 0.75, 0.80, 0.85, 0.90], "0.00", [0.6, 0.7, 0.8, 0.9], "0.0",
              4, -2)
F_head = blank_fig(732, F_HEAD)
ptext(F_head, [4], [11], ["F"], "14px")

left_col = column(A_left, B_left, C_left)
layout = column(row(left_col, right_col), row(D, E), F_head, row(F1, F2, F3))

open("out.html", "w").write(file_html(layout, INLINE, "Figure"))
